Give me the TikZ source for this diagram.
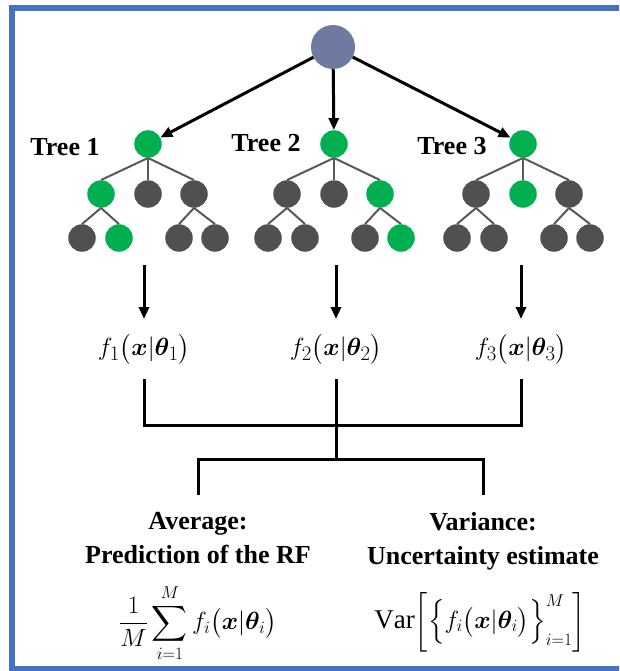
\documentclass[tikz,border=0pt]{standalone}
\usepackage{amsmath,bm}
\usepackage{fontspec}
\setmainfont{Liberation Serif}
\usetikzlibrary{arrows.meta,backgrounds}

\definecolor{rfgreen}{HTML}{00B050}
\definecolor{rfgrey}{HTML}{505050}
\definecolor{edgegrey}{HTML}{595959}
\definecolor{rfblue}{HTML}{6F7AA1}
\definecolor{framblue}{HTML}{4472C4}

\begin{document}
\begin{tikzpicture}[
  x=1pt, y=-1pt, >={Triangle[length=12pt,width=10pt]},
  font=\fontsize{26}{34}\selectfont,
  leaf/.style={circle, minimum size=27.5pt, inner sep=0pt},
  onpath/.style={leaf, fill=rfgreen},
  offpath/.style={leaf, fill=rfgrey},
  rootnode/.style={circle, fill=rfblue, minimum size=44pt, inner sep=0pt},
  branch/.style={line width=2pt, draw=edgegrey},
  flow/.style={->, line width=3pt},
  link/.style={line width=3pt},
  treelabel/.style={font=\fontsize{26}{34}\selectfont\bfseries, inner sep=0pt},
  caption/.style={font=\fontsize{26}{34}\selectfont\bfseries, align=center, inner xsep=0pt, inner ysep=17pt, anchor=north},
  fnode/.style={font=\fontsize{28}{34}\selectfont, inner xsep=0pt, inner ysep=15pt, anchor=north},
  formula/.style={font=\fontsize{27}{34}\selectfont, inner sep=0pt},
]
\useasboundingbox (0,0) rectangle (619,671);
\clip (0,0) rectangle (619,671);
\draw[framblue, line width=6pt] (12,8) rectangle (650,669);

% ---------------- forest ----------------
\node[rootnode] (rf) at (333,47) {};

\foreach \t/\X/\lx/\ly/\ka/\kb/\kc/\ga/\gb/\gc/\gd in {
  1/148/65/147/onpath/offpath/offpath/offpath/onpath/offpath/offpath,
  2/334/266/143/offpath/offpath/onpath/offpath/offpath/offpath/onpath,
  3/523/452/146/offpath/onpath/offpath/offpath/offpath/offpath/offpath}{
  \node[onpath] (t\t) at (\X,144) {};
  \node[\ka] (t\t-a) at (\X-47,194) {};
  \node[\kb] (t\t-b) at (\X,194) {};
  \node[\kc] (t\t-c) at (\X+46,194) {};
  \node[\ga] (t\t-aa) at (\X-66,238) {};
  \node[\gb] (t\t-ab) at (\X-29,238) {};
  \node[\gc] (t\t-ca) at (\X+31,238) {};
  \node[\gd] (t\t-cb) at (\X+67,238) {};
  \node[treelabel] (lab\t) at (\lx,\ly) {Tree \t};
  \draw[flow] (rf) -- (t\t);
}

\begin{scope}[on background layer]
\foreach \t in {1,2,3}{
  \foreach \c in {a,b,c} \draw[branch] (t\t.south) -- (t\t-\c.north);
  \foreach \g in {aa,ab} \draw[branch] (t\t-a.south) -- (t\t-\g.north);
  \foreach \g in {ca,cb} \draw[branch] (t\t-c.south) -- (t\t-\g.north);
}
\end{scope}

% ---------------- tree outputs ----------------
\node[fnode] (f1) at (144,319) {$f_1\bigl(\boldsymbol{x}|\boldsymbol{\theta}_1\bigr)$};
\node[fnode] (f2) at (336,319) {$f_2\bigl(\boldsymbol{x}|\boldsymbol{\theta}_2\bigr)$};
\node[fnode] (f3) at (521,319) {$f_3\bigl(\boldsymbol{x}|\boldsymbol{\theta}_3\bigr)$};

\coordinate (out1) at (144,265);
\coordinate (out2) at (336,265);
\coordinate (out3) at (521,265);
\foreach \i in {1,2,3} \draw[flow] (out\i) -- (f\i.north);

% ---------------- aggregation ----------------
\node[caption] (avg) at (198,495) {Average:\\Prediction of the RF};
\node[caption] (var) at (483,495) {Variance:\\Uncertainty estimate};

\coordinate (merge) at (336,425);
\coordinate (split) at (336,459);
\draw[link] (f1.south) |- (merge) -| (f3.south);
\draw[link] (f2.south) -- (split);
\draw[link] (avg.north) |- (split) -| (var.north);

\node[formula] (mean) at (198,623)
  {$\displaystyle\frac{1}{M}\sum_{i=1}^{M} f_i\bigl(\boldsymbol{x}|\boldsymbol{\theta}_i\bigr)$};
\node[formula] (unc) at (480,622)
  {$\mathrm{Var}\biggl[\Bigl\{f_i\bigl(\boldsymbol{x}|\boldsymbol{\theta}_i\bigr)\Bigr\}_{i=1}^{M}\biggr]$};
\end{tikzpicture}
\end{document}
